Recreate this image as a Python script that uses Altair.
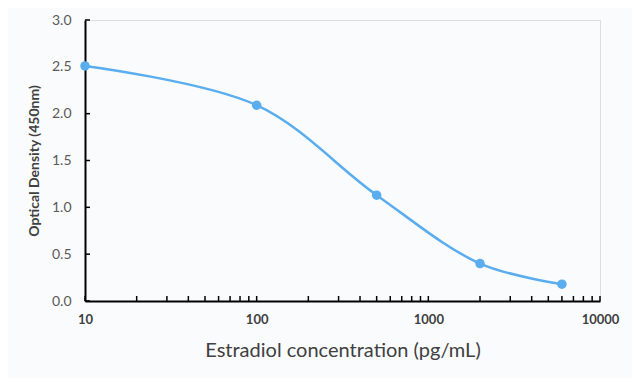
import altair as alt
import pandas as pd

conc = [10, 100, 500, 2000, 6000]
od = [2.51, 2.09, 1.13, 0.40, 0.18]

x_ticks = [10, 20, 30, 40, 50, 60, 70, 80, 90,
           100, 200, 300, 400, 500, 600, 700, 800, 900,
           1000, 2000, 3000, 4000, 5000, 6000, 7000, 8000, 9000, 10000]
y_ticks = [0, 0.5, 1.0, 1.5, 2.0, 2.5, 3.0]

df = pd.DataFrame({"conc": conc, "od": od})
xt = pd.DataFrame({"conc": x_ticks})
yt = pd.DataFrame({"od": y_ticks})

color = "#5AADEE"
font = "Lato"
W, H = 515, 281

xscale = alt.Scale(type="log", domain=[10, 10000], nice=False)
yscale = alt.Scale(domain=[0, 3], nice=False)

x = alt.X("conc:Q", scale=xscale,
          axis=alt.Axis(values=x_ticks, format="d",
                        labelExpr="indexof([10,100,1000,10000], datum.value) >= 0 ? datum.label : ''",
                        title="Estradiol concentration (pg/mL)",
                        titleFontSize=20, titleFontWeight="normal", titleColor="#404040",
                        titlePadding=14,
                        labelFontSize=13, labelFontWeight="bold", labelColor="#404040",
                        labelPadding=12, labelFlush=False,
                        domainColor="black", domainWidth=2,
                        ticks=False, grid=False))
y = alt.Y("od:Q", scale=yscale,
          axis=alt.Axis(values=y_ticks, format=".1f",
                        title="Optical Density (450nm)",
                        titleFontSize=14, titleFontWeight="bold", titleColor="#404040",
                        titlePadding=10,
                        labelFontSize=14, labelColor="#595959", labelPadding=14,
                        domainColor="black", domainWidth=2,
                        ticks=False, grid=False))

xtick_marks = alt.Chart(xt).mark_rule(color="black", strokeWidth=1.5).encode(
    x=alt.X("conc:Q", scale=xscale), y=alt.value(H), y2=alt.value(H - 5))
ytick_marks = alt.Chart(yt).mark_rule(color="black", strokeWidth=1.5).encode(
    y=alt.Y("od:Q", scale=yscale), x=alt.value(0), x2=alt.value(5))

line = alt.Chart(df).mark_line(interpolate="catmull-rom", color=color, strokeWidth=2.5).encode(x=x, y=y)
pts = alt.Chart(df).mark_point(filled=True, color=color, size=90, opacity=1).encode(x=x, y=y)

chart = (xtick_marks + ytick_marks + line + pts).properties(
    width=W, height=H,
    autosize=alt.AutoSizeParams(type="none"),
    padding={"left": 77, "top": 12, "right": 32, "bottom": 77},
    background="#FAFBFC",
).configure_view(stroke=None).configure(font=font)

chart.save("out.html", embed_options={"renderer": "svg", "actions": False})
